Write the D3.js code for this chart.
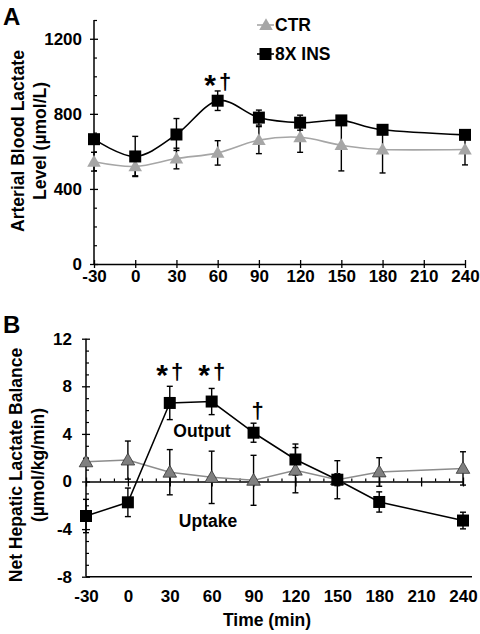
<!DOCTYPE html>
<html><head><meta charset="utf-8">
<script src="https://cdn.jsdelivr.net/npm/d3@7"></script>
<style>
body{margin:0;background:#fff;}
svg text{font-family:"Liberation Sans",Arial,sans-serif;font-weight:bold;fill:#000;}
</style></head><body>
<svg id="c" width="480" height="634"></svg>
<script>
// ---- data ----
const times = [-30, 0, 30, 60, 90, 120, 150, 180, 240];
const xTicks = [-30, 0, 30, 60, 90, 120, 150, 180, 210, 240];
// Panel A: arterial blood lactate (µmol/L)
const ctrA = [545, 520, 562, 592, 660, 675, 633, 610, 610];
const ctrA_se = [50, 50, 55, 65, 72, 80, 137, 125, 82];
const insA = [665, 573, 690, 870, 780, 753, 765, 715, 688];
const insA_se = [20, 107, 85, 52, 40, 40, 25, 15, 15];
const yTicksA = [0, 400, 800, 1200];
// Panel B: net hepatic lactate balance (µmol/kg/min)
const ctrB = [1.65, 1.8, 0.78, 0.35, 0.1, 0.95, 0.15, 0.8, 1.1];
const ctrB_se = [0.3, 1.6, 1.9, 2.2, 2.1, 1.9, 1.6, 1.2, 1.4];
const insB = [-2.9, -1.75, 6.6, 6.72, 4.1, 1.85, 0.15, -1.72, -3.28];
const insB_se = [1.4, 1.2, 1.4, 1.1, 0.8, 1.3, 0.5, 0.85, 0.7];
const yTicksB = [-8, -4, 0, 4, 8, 12];

const svg = d3.select("#c");
const tickFont = "17px", titleFont = "17.5px";
const fmt = d => String(d);

function yAxisDraw(g, y, x0, majors, minors, labelOff) {
  const ax = g.append("g").attr("transform", `translate(${x0},0)`);
  ax.append("line").attr("x1",0).attr("x2",0).attr("y1",y.range()[0]).attr("y2",y.range()[1])
    .attr("stroke","#000").attr("stroke-width",1.5);
  const a = d3.axisLeft(y).tickValues(majors).tickSize(4).tickPadding(labelOff).tickFormat(fmt);
  const ag = ax.append("g").call(a);
  ag.select(".domain").remove();
  ag.selectAll(".tick line").attr("x1",4).attr("x2",-4).attr("stroke","#000").attr("stroke-width",1.3);
  ag.selectAll(".tick text").style("font-size",tickFont).attr("font-family",null);
  const mg = ax.append("g").call(d3.axisRight(y).tickValues(minors).tickSize(3).tickFormat(""));
  mg.select(".domain").remove();
  mg.selectAll(".tick line").attr("stroke","#000").attr("stroke-width",1.2);
}

function errBars(g, x, y, xs, vals, se) {
  const eg = g.append("g").attr("stroke","#000").attr("stroke-width",1.4);
  xs.forEach((t,i)=>{
    const cx = x(t), y1 = y(vals[i]-se[i]), y2 = y(vals[i]+se[i]);
    eg.append("line").attr("x1",cx).attr("x2",cx).attr("y1",y1).attr("y2",y2);
    eg.append("line").attr("x1",cx-3).attr("x2",cx+3).attr("y1",y1).attr("y2",y1);
    eg.append("line").attr("x1",cx-3).attr("x2",cx+3).attr("y1",y2).attr("y2",y2);
  });
}

function sig(g, x, y, withStar) {
  const t = g.append("text").attr("x",x).attr("y",y).attr("text-anchor","middle");
  if (withStar) {
    t.append("tspan").style("font-size","30px").attr("dy","6").text("*");
    t.append("tspan").style("font-size","22px").attr("dx","3").attr("dy","-6").text("†");
  } else {
    t.append("tspan").style("font-size","22px").text("†");
  }
}

const tri = d3.symbol().type(d3.symbolTriangle).size(80);
const sq = d3.symbol().type(d3.symbolSquare).size(144);

// ================= Panel A =================
const xA = d3.scaleLinear().domain([-30,240]).range([94,465]);
const yA = d3.scaleLinear().domain([0,1300]).range([264,20]);
const gA = svg.append("g");

const xaA = gA.append("g").attr("transform","translate(0,264)")
  .call(d3.axisBottom(xA).tickValues(xTicks).tickSize(4).tickPadding(2).tickSizeOuter(0).tickFormat(fmt));
xaA.select(".domain").attr("stroke-width",1.5);
xaA.selectAll(".tick line").attr("y1",-4).attr("y2",4).attr("stroke-width",1.3);
xaA.selectAll(".tick text").style("font-size",tickFont).attr("font-family",null);

const minorsA = d3.range(100,1301,100).filter(v=>v%400!==0);
yAxisDraw(gA, yA, 94, yTicksA, minorsA, 8);

const smooth = d3.curveCardinal.tension(0);
gA.append("path").datum(times.map((t,i)=>[t,ctrA[i]]))
  .attr("d", d3.line().x(d=>xA(d[0])).y(d=>yA(d[1])).curve(smooth))
  .attr("fill","none").attr("stroke","#a6a6a6").attr("stroke-width",1.6);
gA.append("path").datum(times.map((t,i)=>[t,insA[i]]))
  .attr("d", d3.line().x(d=>xA(d[0])).y(d=>yA(d[1])).curve(smooth))
  .attr("fill","none").attr("stroke","#000").attr("stroke-width",1.6);
errBars(gA, xA, yA, times, ctrA, ctrA_se);
errBars(gA, xA, yA, times, insA, insA_se);
gA.selectAll(".ta").data(times).join("path")
  .attr("d",tri).attr("transform",(t,i)=>`translate(${xA(t)},${yA(ctrA[i])+1})`)
  .attr("fill","#a6a6a6");
gA.selectAll(".sa").data(times).join("path")
  .attr("d",sq).attr("transform",(t,i)=>`translate(${xA(t)},${yA(insA[i])})`)
  .attr("fill","#000");

// legend
gA.append("line").attr("x1",257).attr("x2",274).attr("y1",25).attr("y2",25).attr("stroke","#a6a6a6").attr("stroke-width",1.6);
gA.append("path").attr("d",tri).attr("transform","translate(266,26)").attr("fill","#a6a6a6");
gA.append("text").attr("x",275).attr("y",31).style("font-size",titleFont).text("CTR");
gA.append("line").attr("x1",257).attr("x2",274).attr("y1",54).attr("y2",54).attr("stroke","#000").attr("stroke-width",1.6);
gA.append("path").attr("d",sq).attr("transform","translate(265.5,54)").attr("fill","#000");
gA.append("text").attr("x",275).attr("y",60).style("font-size",titleFont).text("8X INS");

sig(gA, xA(60), 89, true);
gA.append("text").attr("x",3).attr("y",25).style("font-size","24px").text("A");
const tA = gA.append("text").attr("transform","translate(0,141) rotate(-90)").attr("text-anchor","middle").style("font-size",titleFont);
tA.append("tspan").attr("x",0).attr("y",24).text("Arterial Blood Lactate");
tA.append("tspan").attr("x",0).attr("y",46).text("Level (µmol/L)");

// ================= Panel B =================
const xB = d3.scaleLinear().domain([-30,240]).range([86,463]);
const yB = d3.scaleLinear().domain([-8,12]).range([576.7,338.7]);
const gB = svg.append("g");

gB.append("line").attr("x1",86).attr("x2",472).attr("y1",yB(-8)).attr("y2",yB(-8)).attr("stroke","#000").attr("stroke-width",1.5);
const xlB = gB.append("g").attr("transform",`translate(0,${yB(-8)})`)
  .call(d3.axisBottom(xB).tickValues(xTicks).tickSize(0).tickPadding(13).tickFormat(fmt));
xlB.select(".domain").remove();
xlB.selectAll(".tick text").style("font-size",tickFont).attr("font-family",null);

const zB = gB.append("g").attr("transform",`translate(0,${yB(0)})`)
  .call(d3.axisBottom(xB).tickValues(xTicks).tickSize(4).tickFormat("").tickSizeOuter(0));
zB.select(".domain").attr("stroke-width",1.5);
zB.selectAll(".tick line").attr("y1",-4).attr("y2",5).attr("stroke-width",1.3);
const zm = gB.append("g").attr("transform",`translate(0,${yB(0)})`)
  .call(d3.axisTop(xB).tickValues(d3.range(-20,240,10).filter(v=>v%30!==0)).tickSize(3).tickFormat(""));
zm.select(".domain").remove();
zm.selectAll(".tick line").attr("stroke-width",1.2);

const minorsB = d3.range(-7,12,1).filter(v=>v%4!==0);
yAxisDraw(gB, yB, 86, yTicksB, minorsB, 10);

gB.append("path").datum(times.map((t,i)=>[t,ctrB[i]]))
  .attr("d", d3.line().x(d=>xB(d[0])).y(d=>yB(d[1])))
  .attr("fill","none").attr("stroke","#8c8c8c").attr("stroke-width",1.5);
gB.append("path").datum(times.map((t,i)=>[t,insB[i]]))
  .attr("d", d3.line().x(d=>xB(d[0])).y(d=>yB(d[1])))
  .attr("fill","none").attr("stroke","#000").attr("stroke-width",1.5);
errBars(gB, xB, yB, times, ctrB, ctrB_se);
errBars(gB, xB, yB, times, insB, insB_se);
gB.selectAll(".tb").data(times).join("path")
  .attr("d",tri).attr("transform",(t,i)=>`translate(${xB(t)},${yB(ctrB[i])+1})`)
  .attr("fill","#808080").attr("stroke","#333").attr("stroke-width",0.8);
gB.selectAll(".sb").data(times).join("path")
  .attr("d",sq).attr("transform",(t,i)=>`translate(${xB(t)},${yB(insB[i])})`)
  .attr("fill","#000");

sig(gB, xB(30), 379, true);
sig(gB, xB(60), 379, true);
sig(gB, xB(90)+4, 418, false);
gB.append("text").attr("x",202).attr("y",437).attr("text-anchor","middle").style("font-size",titleFont).text("Output");
gB.append("text").attr("x",208).attr("y",527).attr("text-anchor","middle").style("font-size",titleFont).text("Uptake");
gB.append("text").attr("x",267).attr("y",626).attr("text-anchor","middle").style("font-size",titleFont).text("Time (min)");
gB.append("text").attr("x",3).attr("y",333).style("font-size","24px").text("B");
const tB = gB.append("text").attr("transform","translate(0,465) rotate(-90)").attr("text-anchor","middle").style("font-size",titleFont);
tB.append("tspan").attr("x",0).attr("y",22).text("Net Hepatic Lactate Balance");
tB.append("tspan").attr("x",0).attr("y",44).text("(µmol/kg/min)");
</script></body></html>
